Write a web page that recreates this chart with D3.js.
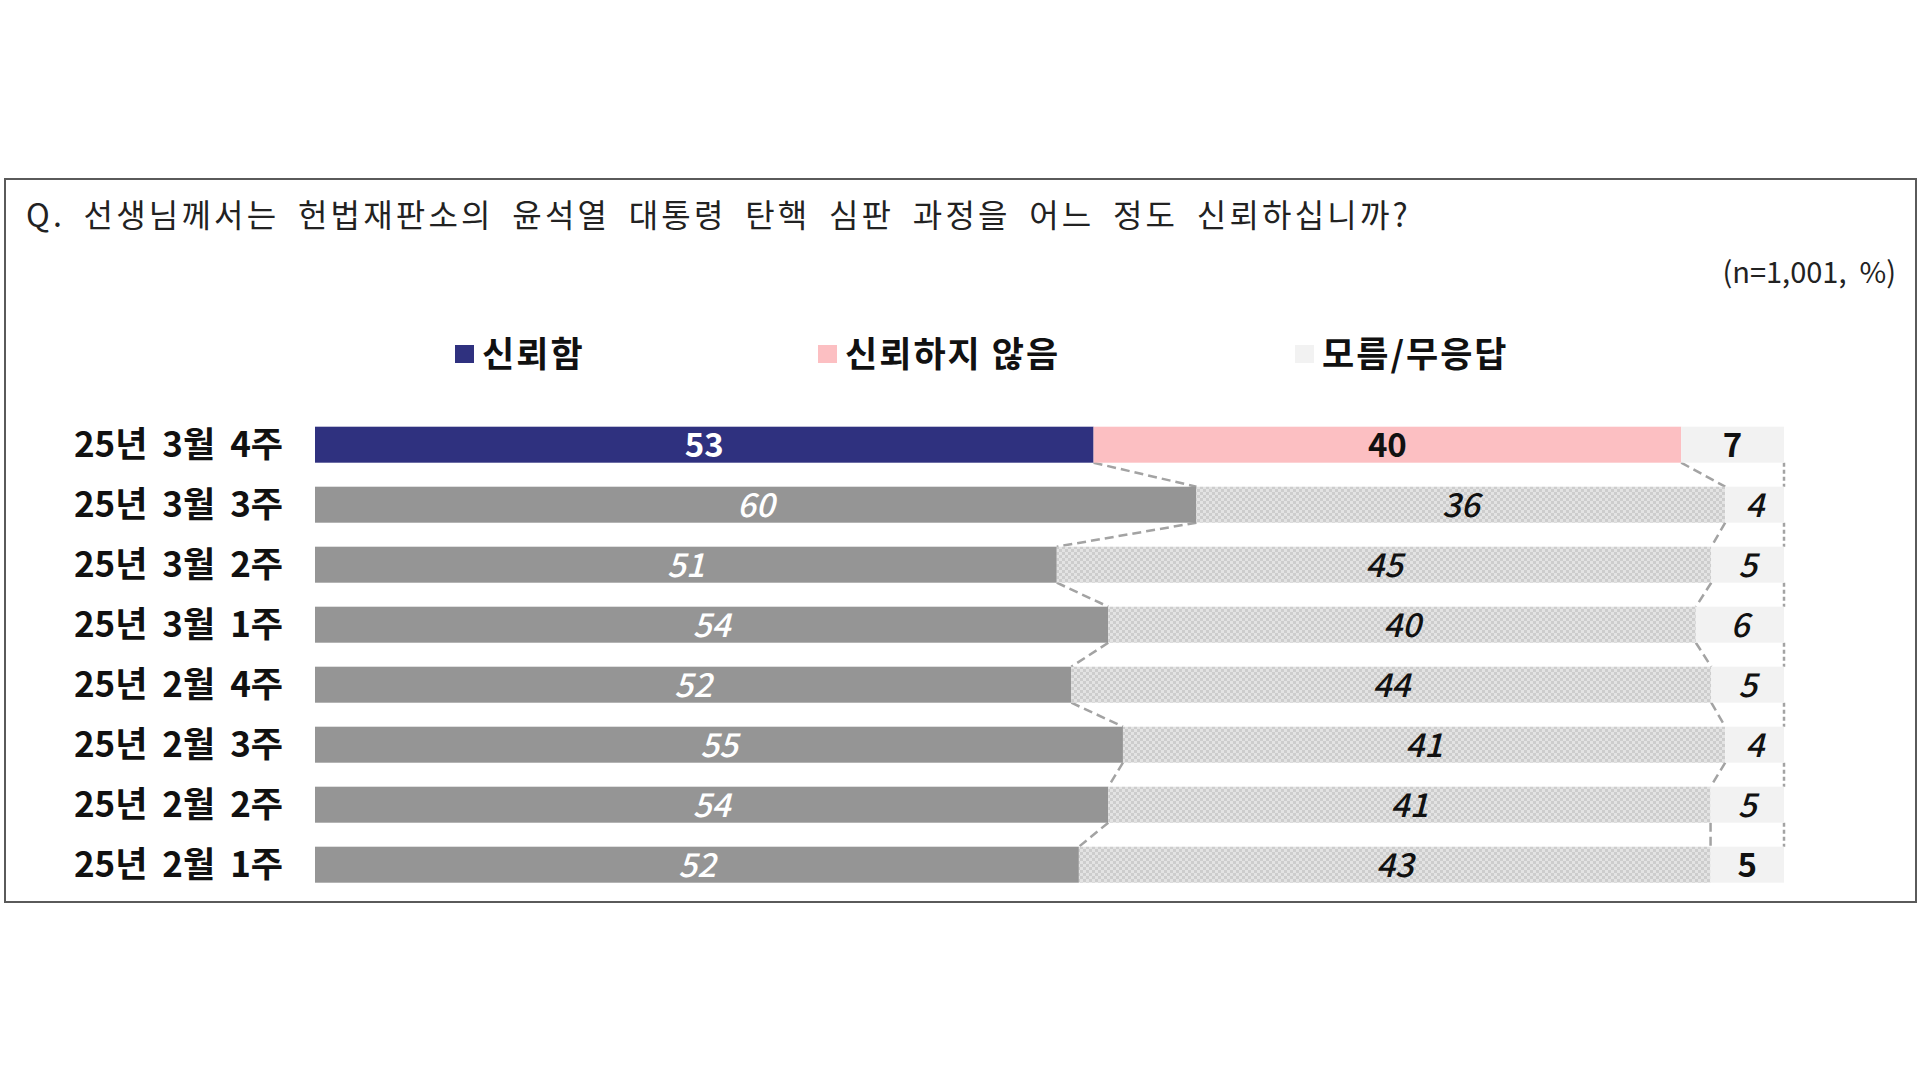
<!DOCTYPE html>
<html>
<head>
<meta charset="utf-8">
<script src="https://cdn.jsdelivr.net/npm/d3@7"></script>
<style>
  html, body { margin: 0; padding: 0; background: #ffffff; }
  svg { display: block; }
  text { font-family: "Noto Sans CJK KR", "Noto Sans", sans-serif; }
</style>
</head>
<body>
<svg id="chart" width="1920" height="1080"></svg>
<script>
// ---- data ----
const title = "Q. 선생님께서는 헌법재판소의 윤석열 대통령 탄핵 심판 과정을 어느 정도 신뢰하십니까?";
const note = "(n=1,001,  %)";
const categories = ["25년 3월 4주", "25년 3월 3주", "25년 3월 2주", "25년 3월 1주",
                    "25년 2월 4주", "25년 2월 3주", "25년 2월 2주", "25년 2월 1주"];
const seriesNames = ["신뢰함", "신뢰하지 않음", "모름/무응답"];
const trust    = [53, 60, 51, 54, 52, 55, 54, 52];
const distrust = [40, 36, 45, 40, 44, 41, 41, 43];
const unknown  = [7, 4, 5, 6, 5, 4, 5, 5];

// ---- build ----
const svg = d3.select("#chart");
const W = 1920, H = 1080;
svg.append("rect").attr("width", W).attr("height", H).attr("fill", "#ffffff");

const defs = svg.append("defs");
const pat = defs.append("pattern").attr("id", "hatch").attr("patternUnits", "userSpaceOnUse")
  .attr("width", 6).attr("height", 6);
pat.append("rect").attr("width", 6).attr("height", 6).attr("fill", "#e3e3e3");
pat.append("rect").attr("width", 3).attr("height", 3).attr("fill", "#cdcdcd");
pat.append("rect").attr("x", 3).attr("y", 3).attr("width", 3).attr("height", 3).attr("fill", "#cdcdcd");

// frame
svg.append("rect").attr("x", 5).attr("y", 179).attr("width", 1911).attr("height", 723)
  .attr("fill", "none").attr("stroke", "#5a5a5a").attr("stroke-width", 2);

const titleEl = svg.append("text").attr("x", 26).attr("y", 227).attr("font-size", 32)
  .attr("letter-spacing", 3.2).attr("fill", "#222")
  .text(title);
// adjust word gaps so the question spans the same width as the original
{
  const target = 1385;
  const len = titleEl.node().getComputedTextLength();
  const nSp = title.split(" ").length - 1;
  titleEl.attr("word-spacing", (target - len) / nSp);
}
svg.append("text").attr("x", 1896).attr("y", 283).attr("font-size", 29).attr("fill", "#222")
  .attr("text-anchor", "end").attr("xml:space", "preserve").text(note);

const rows = categories.map((c, i) => ({cat: c, s0: trust[i], s1: distrust[i], s2: unknown[i]}));
const keys = ["s0", "s1", "s2"];
const stack = d3.stack().keys(keys).offset(d3.stackOffsetExpand);
const series = stack(rows);

const x = d3.scaleLinear().domain([0, 1]).range([315, 1784]);
const y = d3.scaleBand().domain(categories).range([414.7, 894.7]).paddingInner(0.4).paddingOuter(0.2);

// legend
const legendColors = ["#2f317f", "#fcbfc2", "#f2f2f2"];
const legendX = [455, 818, 1295];
const lg = svg.append("g");
seriesNames.forEach((n, i) => {
  lg.append("rect").attr("x", legendX[i]).attr("y", 345).attr("width", 19).attr("height", 18)
    .attr("fill", legendColors[i]);
  lg.append("text").attr("x", legendX[i] + 27).attr("y", 367).attr("font-size", 35)
    .attr("letter-spacing", 2).attr("font-weight", 700).attr("fill", "#111").text(n);
});

// fills per row
const fillFor = (k, i) => {
  if (i === 0) return legendColors[k];
  return ["#959595", "url(#hatch)", "#f2f2f2"][k];
};

// connector dashed lines (drawn first)
const cg = svg.append("g").attr("fill", "none").attr("stroke", "#a3a3a3")
  .attr("stroke-width", 2.5).attr("stroke-dasharray", "9,5");
for (let i = 0; i < rows.length - 1; i++) {
  const c0 = categories[i], c1 = categories[i + 1];
  [0, 1].forEach(k => {
    cg.append("line")
      .attr("x1", x(series[k][i][1])).attr("y1", y(c0) + y.bandwidth())
      .attr("x2", x(series[k][i + 1][1])).attr("y2", y(c1));
  });
  cg.append("line").attr("stroke-dasharray", "4,3")
    .attr("x1", x(series[2][i][1])).attr("y1", y(c0) + y.bandwidth())
    .attr("x2", x(series[2][i + 1][1])).attr("y2", y(c1));
}

// bars
series.forEach((s, k) => {
  svg.append("g").selectAll("rect").data(s).join("rect")
    .attr("x", d => x(d[0]))
    .attr("y", d => y(d.data.cat))
    .attr("width", d => x(d[1]) - x(d[0]))
    .attr("height", y.bandwidth())
    .attr("fill", (d, i) => fillFor(k, i));
});

// value labels
series.forEach((s, k) => {
  svg.append("g").selectAll("text").data(s).join("text")
    .attr("x", d => (x(d[0]) + x(d[1])) / 2)
    .attr("y", d => y(d.data.cat) + y.bandwidth() / 2)
    .attr("dy", "0.36em")
    .attr("text-anchor", "middle")
    .attr("font-size", 33)
    .attr("font-weight", (d, i) => (i === 0 || (k === 2 && i === rows.length - 1)) ? 700 : 500)
    .attr("font-style", (d, i) => (i === 0 || (k === 2 && i === rows.length - 1)) ? "normal" : "italic")
    .attr("fill", (d, i) => k === 0 ? "#ffffff" : "#111")
    .text(d => d.data[keys[k]]);
});

// category labels
svg.append("g").selectAll("text").data(categories).join("text")
  .attr("x", 283)
  .attr("y", d => y(d) + y.bandwidth() / 2)
  .attr("dy", "0.36em")
  .attr("text-anchor", "end")
  .attr("font-size", 35)
  .attr("font-weight", 700)
  .attr("fill", "#111")
  .attr("word-spacing", 7)
  .text(d => d);
</script>
</body>
</html>
